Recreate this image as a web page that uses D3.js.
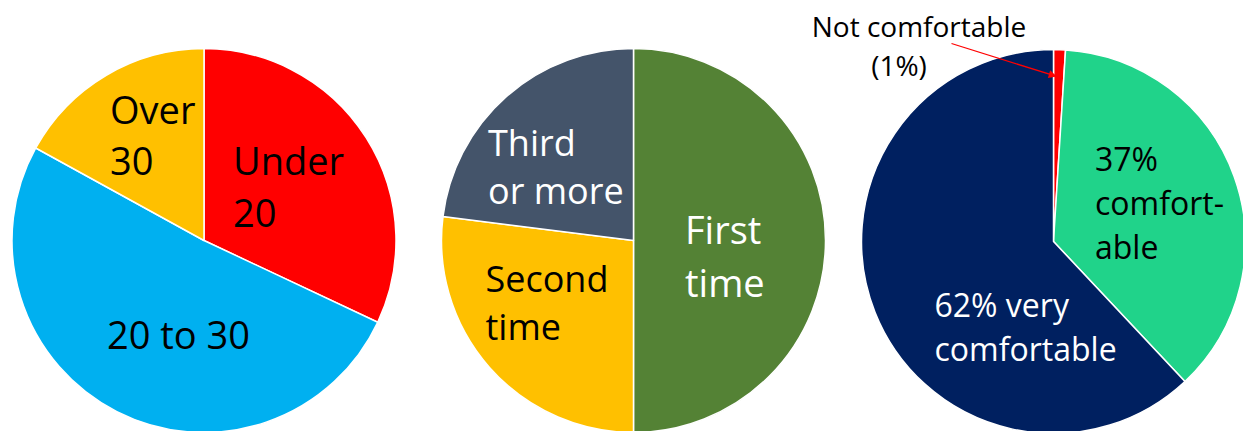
<!DOCTYPE html>
<html>
<head>
<meta charset="utf-8">
<script src="https://cdn.jsdelivr.net/npm/d3@7"></script>
<style>
  html, body { margin: 0; padding: 0; background: #fff; }
  svg { display: block; }
  text { font-family: "Open Sans", "Noto Sans", sans-serif; }
</style>
</head>
<body>
<svg id="chart" width="1243" height="431"></svg>
<script>
// Age of respondents (%)
const ageCategories = ["Under 20", "20 to 30", "Over 30"];
const ageValues = [32, 51, 17];

// Which visit this was (%)
const visitCategories = ["First time", "Second time", "Third or more"];
const visitValues = [50, 27, 23];

// Comfort level (%)
const comfortCategories = ["Not comfortable", "Comfortable", "Very comfortable"];
const comfortValues = [1, 37, 62];

// Slice labels, split into lines
const ageLabels = [["Under", "20"], ["20 to 30"], ["Over", "30"]];
const visitLabels = [["First", "time"], ["Second", "time"], ["Third", "or more"]];
const comfortLabels = [[], ["37%", "comfort-", "able"], ["62% very", "comfortable"]];
const calloutLabel = ["Not comfortable", "(1%)"];

const svg = d3.select("#chart");
const radius = 192;

// Arrowhead for the callout
svg.append("defs").append("marker")
  .attr("id", "arrowRed")
  .attr("viewBox", "0 0 10 10")
  .attr("refX", 10).attr("refY", 5)
  .attr("markerWidth", 9).attr("markerHeight", 8)
  .attr("markerUnits", "userSpaceOnUse")
  .attr("orient", "auto")
  .append("path").attr("d", "M0,0 L10,5 L0,10 Z").attr("fill", "#ff0000");

const pies = [
  {
    cx: 204, cy: 240.5,
    categories: ageCategories, values: ageValues, labels: ageLabels,
    colors: ["#ff0000", "#00b0f0", "#ffc000"],
    textColors: ["#000", "#000", "#000"],
    fontSizes: [38, 38, 38], lineHeights: [51.5, 51.5, 51.5],
    // first-line baseline anchor of each label, relative to pie centre
    labelPos: [[29, -65.5], [-97, 108], [-94, -117]]
  },
  {
    cx: 633.5, cy: 240.5,
    categories: visitCategories, values: visitValues, labels: visitLabels,
    colors: ["#548235", "#ffc000", "#44546a"],
    textColors: ["#fff", "#000", "#fff"],
    fontSizes: [38, 36, 36], lineHeights: [53.5, 48.5, 47.5],
    labelPos: [[51.5, 3], [-148, 51], [-145.5, -84.5]]
  },
  {
    cx: 1053.5, cy: 241.5,
    categories: comfortCategories, values: comfortValues, labels: comfortLabels,
    colors: ["#ff0000", "#20d38a", "#002060"],
    textColors: ["#000", "#000", "#fff"],
    fontSizes: [32, 32, 32], lineHeights: [44.3, 44.3, 44.3],
    labelPos: [[0, 0], [41.5, -71], [-119, 75]]
  }
];

const pieLayout = d3.pie().sort(null).value(d => d);
const arc = d3.arc().innerRadius(0).outerRadius(radius);

pies.forEach(p => {
  const g = svg.append("g").attr("transform", `translate(${p.cx},${p.cy})`);
  const arcs = pieLayout(p.values);

  g.selectAll("path.slice")
    .data(arcs)
    .join("path")
    .attr("class", "slice")
    .attr("d", arc)
    .attr("fill", (d, i) => p.colors[i])
    .attr("stroke", "#ffffff")
    .attr("stroke-width", 1.5)
    .attr("stroke-linejoin", "round");

  p.labels.forEach((lines, i) => {
    if (!lines.length) return;
    const [lx, ly] = p.labelPos[i];
    const t = g.append("text")
      .attr("x", lx).attr("y", ly)
      .attr("fill", p.textColors[i])
      .style("font-size", p.fontSizes[i] + "px");
    lines.forEach((line, j) => {
      t.append("tspan").attr("x", lx).attr("y", ly + j * p.lineHeights[i]).text(line);
    });
  });
});

// Callout for the thin "not comfortable" slice
const comfort = pies[2];
const thin = pieLayout(comfort.values)[0];
const tipAngle = (thin.startAngle + thin.endAngle) / 2;
const tipR = radius * 0.86;
const tipX = comfort.cx + Math.sin(tipAngle) * tipR - 2;
const tipY = comfort.cy - Math.cos(tipAngle) * tipR;

svg.append("line")
  .attr("x1", 951.5).attr("y1", 43.5)
  .attr("x2", tipX).attr("y2", tipY)
  .attr("stroke", "#ff0000")
  .attr("stroke-width", 1.3)
  .attr("marker-end", "url(#arrowRed)");

const callout = svg.append("text")
  .attr("text-anchor", "middle")
  .attr("fill", "#000")
  .style("font-size", "28px");
callout.append("tspan").attr("x", 919).attr("y", 37).text(calloutLabel[0]);
callout.append("tspan").attr("x", 899).attr("y", 76).text(calloutLabel[1]);
</script>
</body>
</html>
